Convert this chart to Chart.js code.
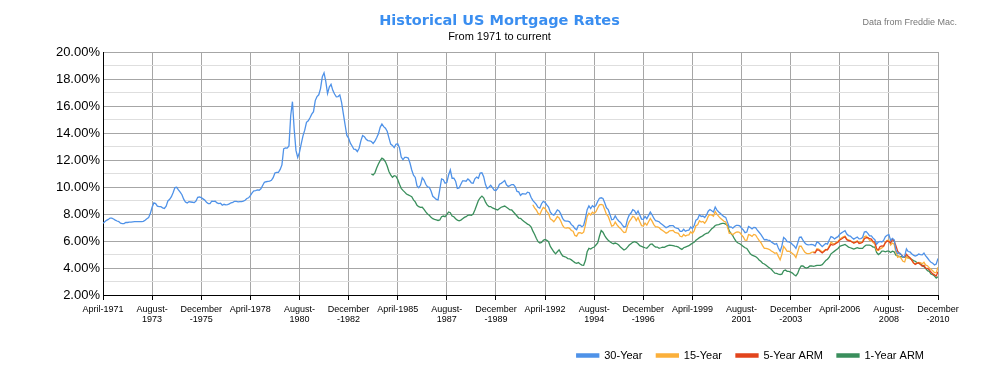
<!DOCTYPE html>
<html><head><meta charset="utf-8">
<script src="https://cdn.jsdelivr.net/npm/chart.js@4.4.1/dist/chart.umd.min.js"></script>
<style>
html,body{margin:0;padding:0;background:#fff;}
#wrap{position:relative;width:1000px;height:380px;overflow:hidden;}
#title{position:absolute;left:0;width:999px;top:11px;text-align:center;font:bold 14.5px "DejaVu Sans",Verdana,sans-serif;line-height:18px;color:#3a8ef0;}
#subtitle{position:absolute;left:0;width:999px;top:30px;text-align:center;font:11px "Liberation Sans",Arial,sans-serif;line-height:13px;color:#000;}
#note{position:absolute;right:43px;top:17px;font:9px "Liberation Sans",Arial,sans-serif;line-height:11px;color:#777;}
canvas{position:absolute;left:0;top:0;}
</style></head><body>
<div id="wrap">
<canvas id="c" width="1000" height="380"></canvas>
<div id="title">Historical US Mortgage Rates</div>
<div id="subtitle">From 1971 to current</div>
<div id="note">Data from Freddie Mac.</div>
</div>
<script>
// first month on the x axis
const firstYear = 1971, firstMonth = 4;
const monthsPerTick = 28;
const tickLabels = ["April-1971", ["August-","1973"], ["December","-1975"], "April-1978", ["August-","1980"], ["December","-1982"], "April-1985", ["August-","1987"], ["December","-1989"], "April-1992", ["August-","1994"], ["December","-1996"], "April-1999", ["August-","2001"], ["December","-2003"], "April-2006", ["August-","2008"], ["December","-2010"]];
const yTicks = [2,4,6,8,10,12,14,16,18,20];

// 30-Year fixed, monthly from April 1971
const rate30Start = [1971, 4];
const rate30 = [
7.31,7.43,7.53,7.60,7.70,7.69,7.63,7.55,7.48,
7.44,7.32,7.29,7.29,7.37,7.37,7.40,7.40,7.42,7.43,7.44,7.44,
7.44,7.44,7.46,7.54,7.65,7.73,8.05,8.50,8.82,8.77,8.58,8.54,
8.54,8.46,8.41,8.58,8.97,9.09,9.28,9.59,9.96,9.98,9.79,9.62,
9.43,9.10,8.89,8.82,8.91,8.89,8.87,8.84,8.96,9.24,9.26,9.21,
9.12,9.03,8.86,8.77,8.77,8.95,8.93,8.95,8.82,8.77,8.80,8.65,
8.72,8.67,8.69,8.75,8.83,8.86,8.94,8.94,8.90,8.92,8.92,8.96,
9.02,9.15,9.20,9.36,9.57,9.71,9.74,9.78,9.76,9.86,10.11,10.35,
10.39,10.41,10.43,10.50,10.69,11.04,11.09,11.09,11.30,11.64,12.83,12.90,
12.88,13.04,15.28,16.32,14.26,12.71,12.19,12.56,13.20,13.79,14.21,14.79,
14.90,15.13,15.40,15.58,16.40,16.70,16.83,17.29,18.16,18.45,17.83,16.92,
17.40,17.60,17.16,16.89,16.68,16.70,16.82,16.27,15.43,14.61,13.82,13.62,
13.25,13.04,12.80,12.78,12.63,12.87,13.42,13.81,13.73,13.54,13.44,13.42,
13.37,13.23,13.39,13.65,13.94,14.42,14.67,14.47,14.35,14.13,13.64,13.18,
13.08,12.92,13.17,13.20,12.91,12.22,12.03,12.19,12.19,12.14,11.78,11.26,
10.88,10.71,10.08,9.94,10.14,10.68,10.51,10.20,10.01,9.98,9.70,9.31,
9.20,9.08,9.04,9.83,10.60,10.54,10.28,10.33,10.89,11.26,10.65,10.65,
10.43,9.89,9.93,10.20,10.46,10.46,10.43,10.60,10.48,10.30,10.27,10.61,
10.73,10.65,11.03,11.05,10.77,10.20,9.88,9.99,10.13,9.95,9.77,9.74,
9.90,10.20,10.27,10.37,10.48,10.16,10.04,10.10,10.18,10.18,10.01,9.67,
9.64,9.37,9.50,9.49,9.47,9.62,9.58,9.24,9.01,8.86,8.71,8.50,
8.43,8.76,8.94,8.85,8.67,8.51,8.13,7.98,7.92,8.09,8.31,8.22,
7.99,7.68,7.50,7.47,7.47,7.42,7.21,7.11,6.92,6.83,7.16,7.17,
7.06,7.15,7.68,8.32,8.60,8.40,8.61,8.51,8.64,8.93,9.17,9.20,
9.15,8.83,8.46,8.32,7.96,7.57,7.61,7.86,7.64,7.48,7.38,7.20,
7.03,7.08,7.62,7.93,8.07,8.32,8.25,8.00,8.23,7.92,7.62,7.60,
7.82,7.65,7.90,8.14,7.94,7.69,7.50,7.48,7.43,7.29,7.21,7.10,
6.99,7.04,7.13,7.14,7.14,7.00,6.95,6.92,6.72,6.71,6.87,6.72,
6.79,6.81,7.04,6.92,7.15,7.55,7.63,7.94,7.82,7.85,7.74,7.91,
8.21,8.33,8.24,8.15,8.52,8.29,8.15,8.03,7.91,7.80,7.75,7.38,
7.03,7.05,6.95,7.08,7.15,7.16,7.13,6.95,6.82,6.62,6.66,7.07,
7.00,6.89,7.01,6.99,6.81,6.65,6.49,6.29,6.09,6.11,6.07,6.05,
5.92,5.84,5.75,5.81,5.48,5.23,5.63,6.26,6.15,5.95,5.93,5.88,
5.74,5.64,5.45,5.83,6.27,6.29,6.06,5.87,5.75,5.72,5.73,5.75,
5.71,5.63,5.93,5.86,5.72,5.58,5.70,5.82,5.77,6.07,6.33,6.27,
6.15,6.25,6.32,6.51,6.60,6.68,6.76,6.52,6.40,6.36,6.24,6.14,
6.22,6.29,6.16,6.18,6.26,6.66,6.70,6.57,6.38,6.38,6.21,6.10,
5.76,5.92,5.97,5.92,6.04,6.32,6.43,6.48,6.04,6.20,6.09,5.33,
5.06,5.13,5.00,4.81,4.86,5.42,5.22,5.19,5.06,4.95,4.88,4.93,
5.03,4.99,4.97,5.10,4.89,4.74,4.56,4.43,4.35,4.23,4.30,4.71
];

// 15-Year fixed, monthly from September 1991
const rate15Start = [1991, 9];
const rate15 = [
8.69,8.45,8.30,8.05,
7.95,8.26,8.48,8.40,8.20,8.03,7.64,7.55,7.42,7.60,7.81,7.71,
7.46,7.15,6.98,6.96,6.99,6.94,6.78,6.72,6.41,6.36,6.60,6.62,
6.55,6.65,7.18,7.82,8.05,7.93,8.13,8.04,8.17,8.45,8.68,8.71,
8.67,8.34,7.97,7.82,7.47,7.10,7.15,7.40,7.19,7.04,6.93,6.77,
6.62,6.65,7.12,7.44,7.62,7.83,7.76,7.51,7.74,7.43,7.14,7.11,
7.32,7.18,7.43,7.67,7.47,7.22,7.05,7.04,6.99,6.86,6.78,6.68,
6.58,6.64,6.75,6.77,6.78,6.64,6.61,6.57,6.35,6.31,6.48,6.37,
6.44,6.46,6.68,6.56,6.75,7.13,7.20,7.50,7.40,7.45,7.32,7.50,
7.82,7.96,7.92,7.83,8.19,7.97,7.82,7.68,7.57,7.46,7.41,7.05,
6.57,6.58,6.47,6.58,6.65,6.67,6.63,6.45,6.30,6.06,6.05,6.48,
6.43,6.34,6.49,6.45,6.24,6.05,5.89,5.66,5.45,5.45,5.41,5.37,
5.26,5.18,5.09,5.13,4.86,4.60,5.01,5.60,5.44,5.23,5.24,5.18,
5.08,4.97,4.78,5.18,5.61,5.61,5.39,5.19,5.09,5.06,5.08,5.16,
5.20,5.18,5.43,5.40,5.29,5.19,5.27,5.37,5.36,5.63,5.89,5.82,
5.79,5.89,5.97,6.14,6.24,6.30,6.36,6.14,6.08,6.04,5.93,5.86,
5.95,6.00,5.89,5.89,5.94,6.31,6.37,6.24,6.04,6.04,5.89,5.77,
5.30,5.31,5.41,5.49,5.60,5.92,6.04,6.06,5.70,5.85,5.77,5.18,
4.79,4.86,4.71,4.50,4.45,4.84,4.72,4.75,4.60,4.35,4.31,4.36,
4.41,4.39,4.31,4.42,4.21,4.17,4.01,3.91,3.80,3.66,3.66,4.06
];

// 5-Year ARM, monthly from January 2005
const arm5Start = [2005, 1];
const arm5 = [
5.14,5.12,5.35,5.33,5.23,5.12,5.22,5.35,5.34,5.55,5.75,5.70,
5.74,5.84,5.91,6.07,6.15,6.24,6.30,6.10,6.02,6.00,5.93,5.85,
5.90,5.97,5.82,5.85,5.90,6.16,6.25,6.24,6.17,6.14,5.96,5.91,
5.43,5.34,5.59,5.63,5.62,5.87,6.00,5.96,5.85,6.12,6.00,5.66,
5.24,5.08,4.99,4.85,4.82,5.02,4.88,4.76,4.58,4.40,4.27,4.34,
4.39,4.26,4.14,4.20,3.97,3.97,3.88,3.70,3.56,3.49,3.40,3.72
];

// 1-Year ARM, monthly from January 1984
const arm1Start = [1984, 1];
const arm1 = [
10.96,10.90,11.05,11.40,11.70,11.95,12.13,12.05,11.87,11.55,11.15,10.90,
10.72,10.84,10.80,10.55,10.20,9.90,9.75,9.62,9.48,9.42,9.35,9.28,
9.05,8.90,8.65,8.54,8.49,8.50,8.35,8.15,8.00,7.90,7.75,7.65,
7.60,7.56,7.52,7.56,7.80,7.85,7.80,7.95,8.15,8.10,7.85,7.80,
7.65,7.55,7.50,7.55,7.65,7.75,7.80,7.90,7.93,7.90,8.00,8.30,
8.65,9.00,9.20,9.33,9.20,8.90,8.67,8.55,8.55,8.45,8.40,8.35,
8.30,8.40,8.50,8.55,8.59,8.50,8.40,8.30,8.30,8.15,8.00,7.85,
7.70,7.68,7.55,7.45,7.35,7.25,7.19,7.05,6.75,6.50,6.20,5.95,
5.85,5.90,6.05,6.12,6.05,5.95,5.60,5.40,5.20,5.05,5.20,5.35,
5.10,4.90,4.85,4.80,4.70,4.68,4.60,4.50,4.40,4.35,4.40,4.30,
4.22,4.20,4.55,5.20,5.45,5.40,5.50,5.55,5.70,5.85,6.35,6.78,
6.65,6.40,6.20,6.05,5.95,5.85,5.80,5.85,5.80,5.70,5.55,5.45,
5.33,5.40,5.55,5.70,5.80,5.90,5.95,5.90,5.80,5.65,5.60,5.55,
5.50,5.46,5.60,5.75,5.78,5.65,5.55,5.55,5.46,5.50,5.55,5.53,
5.60,5.65,5.70,5.68,5.65,5.62,5.60,5.55,5.45,5.38,5.50,5.55,
5.60,5.65,5.75,5.83,5.90,6.05,6.15,6.25,6.32,6.40,6.50,6.57,
6.60,6.75,6.90,7.00,7.15,7.19,7.22,7.26,7.30,7.31,7.25,7.15,
6.75,6.55,6.40,6.15,5.95,5.85,5.80,5.70,5.60,5.50,5.45,5.25,
5.05,4.95,4.90,4.85,4.75,4.60,4.50,4.35,4.30,4.20,4.10,4.00,
3.90,3.75,3.62,3.60,3.55,3.52,3.55,3.80,3.85,3.75,3.75,3.70,
3.62,3.50,3.42,3.60,3.95,4.15,4.15,4.05,4.00,4.05,4.15,4.15,
4.12,4.15,4.20,4.20,4.20,4.25,4.40,4.55,4.65,4.80,5.05,5.15,
5.25,5.35,5.45,5.60,5.65,5.70,5.75,5.65,5.55,5.50,5.45,5.40,
5.45,5.50,5.45,5.45,5.45,5.60,5.70,5.70,5.70,5.65,5.55,5.55,
5.15,5.00,5.10,5.25,5.25,5.20,5.25,5.25,5.15,5.25,5.20,4.95,
4.90,4.85,4.85,4.80,4.80,4.85,4.75,4.70,4.65,4.55,4.50,4.40,
4.35,4.30,4.20,4.10,3.95,3.80,3.75,3.55,3.50,3.40,3.25,3.35
];

const seriesNames = ["30-Year", "15-Year", "5-Year ARM", "1-Year ARM"];
const seriesColors = ["#4f92e8", "#fbb03b", "#e2441c", "#3a8f5c"];

function toPoints(values, start) {
  const offset = (start[0] - firstYear) * 12 + (start[1] - firstMonth);
  return values.map((v, i) => ({ x: offset + i, y: v }));
}
const lastIndex = (tickLabels.length - 1) * monthsPerTick;

const seriesData = [toPoints(rate30, rate30Start), toPoints(rate15, rate15Start), toPoints(arm5, arm5Start), toPoints(arm1, arm1Start)];
const drawOrder = [0, 2, 1, 3];

new Chart(document.getElementById('c'), {
  type: 'line',
  data: {
    datasets: seriesData.map((d, i) => ({
      label: seriesNames[i],
      data: d,
      borderColor: seriesColors[i],
      backgroundColor: seriesColors[i],
      borderWidth: 1.3,
      pointRadius: 0,
      tension: 0,
      fill: false,
      order: drawOrder[i]
    }))
  },
  options: {
    responsive: false,
    animation: false,
    devicePixelRatio: 1,
    layout: { padding: { left: 0, right: 62, top: 52, bottom: 9 } },
    plugins: {
      title: { display: false },
      tooltip: { enabled: false },
      legend: {
        position: 'bottom',
        align: 'end',
        labels: {
          boxWidth: 22, boxHeight: 3, padding: 14, color: '#000',
          font: { family: 'Liberation Sans', size: 11 },
          sort: (a, b) => a.datasetIndex - b.datasetIndex
        }
      }
    },
    scales: {
      x: {
        type: 'linear', min: 0, max: lastIndex,
        afterFit(s) { s.height = 41; },
        border: { color: '#000', width: 1 },
        grid: { color: '#a6a6a6', tickColor: '#000', tickLength: 5 },
        ticks: {
          stepSize: monthsPerTick, autoSkip: false, maxRotation: 0, padding: 4,
          color: '#000',
          font: { family: 'Liberation Sans', size: 9, lineHeight: 1.15 },
          callback: (v) => tickLabels[Math.round(v / monthsPerTick)]
        }
      },
      y: {
        min: yTicks[0], max: yTicks[yTicks.length - 1],
        afterFit(s) { s.width = 103; },
        border: { color: '#000', width: 1 },
        grid: { drawTicks: false, color: (c) => (c.tick && yTicks.includes(c.tick.value)) ? '#a6a6a6' : '#dedede' },
        ticks: {
          stepSize: 1, autoSkip: false, padding: 3, color: '#000',
          font: { family: 'Liberation Sans', size: 13 },
          callback: (v) => yTicks.includes(v) ? v.toFixed(2) + '%' : ''
        }
      }
    }
  }
});
</script>
</body></html>
